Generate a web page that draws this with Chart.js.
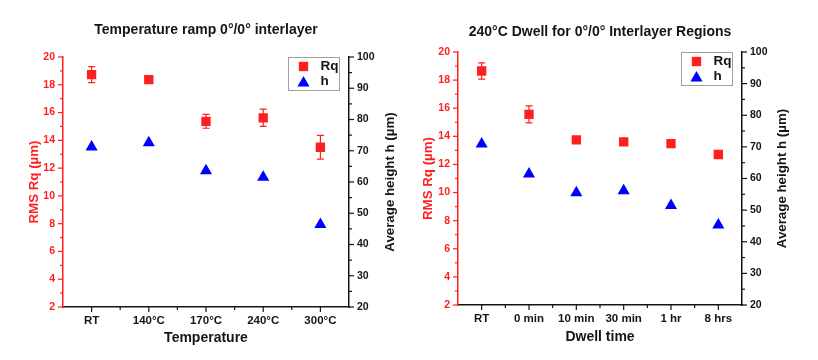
<!DOCTYPE html>
<html>
<head>
<meta charset="utf-8">
<script src="https://cdn.jsdelivr.net/npm/chart.js@4"></script>
<style>
  html, body { margin: 0; padding: 0; background: #fff; }
  #wrap { position: relative; width: 818px; height: 360px; }
  canvas { position: absolute; top: 0; }
</style>
</head>
<body>
<div id="wrap">
  <canvas id="c1" width="409" height="360" style="left:0"></canvas>
  <canvas id="c2" width="409" height="360" style="left:409px"></canvas>
</div>
<script>
// --- Daten ---
const tempLabels = ['RT', '140°C', '170°C', '240°C', '300°C'];
const tempRq     = [18.73, 18.37, 15.37, 15.62, 13.5];
const tempRqErr  = [0.58, 0.1, 0.5, 0.62, 0.86];
const tempH      = [71.2, 72.6, 63.6, 61.5, 46.4];

const dwellLabels = ['RT', '0 min', '10 min', '30 min', '1 hr', '8 hrs'];
const dwellRq     = [18.65, 15.56, 13.75, 13.6, 13.48, 12.71];
const dwellRqErr  = [0.58, 0.6, 0, 0, 0.15, 0];
const dwellH      = [70.9, 61.4, 55.5, 56.1, 51.5, 45.3];

const rqRange = [2, 20];   // linke Achse, Hauptstriche alle 2
const hRange  = [20, 100]; // rechte Achse, Hauptstriche alle 10

const RED = '#ff1f1f';
const BLUE = '#0000ff';
const INK = '#151515';
const FONT = '"Liberation Sans", Arial, sans-serif';

// --- Plugins ---
const errorBars = {
  id: 'errorBars',
  afterDatasetsDraw(chart, args, opts) {
    const errs = opts.errors || [];
    const meta = chart.getDatasetMeta(0);
    const ys = chart.scales.y;
    const data = chart.data.datasets[0].data;
    const {ctx} = chart;
    ctx.save();
    ctx.strokeStyle = RED;
    ctx.lineWidth = 1.2;
    meta.data.forEach((pt, i) => {
      const e = errs[i];
      if (!e) return;
      const top = ys.getPixelForValue(data[i] + e);
      const bot = ys.getPixelForValue(data[i] - e);
      ctx.beginPath();
      ctx.moveTo(pt.x, top); ctx.lineTo(pt.x, bot);
      ctx.moveTo(pt.x - 3.5, top); ctx.lineTo(pt.x + 3.5, top);
      ctx.moveTo(pt.x - 3.5, bot); ctx.lineTo(pt.x + 3.5, bot);
      ctx.stroke();
    });
    ctx.restore();
  }
};

const tickMarks = {
  id: 'tickMarks',
  afterDraw(chart) {
    const {ctx, chartArea: a} = chart;
    ctx.save();
    ctx.lineWidth = 1.2;
    ['y', 'y2'].forEach(id => {
      const sc = chart.scales[id];
      const left = sc.position === 'left';
      const x0 = left ? a.left : a.right;
      const dir = left ? -1 : 1;
      ctx.strokeStyle = sc.options.border.color;
      sc.ticks.forEach(t => {
        const y = sc.getPixelForValue(t.value);
        const len = t.label !== '' ? 5 : 3;
        ctx.beginPath();
        ctx.moveTo(x0, y);
        ctx.lineTo(x0 + dir * len, y);
        ctx.stroke();
      });
    });
    const xs = chart.scales.x;
    ctx.strokeStyle = xs.options.border.color;
    const n = chart.data.labels.length;
    for (let i = 0; i < n; i++) {
      const px = xs.getPixelForValue(i);
      ctx.beginPath(); ctx.moveTo(px, a.bottom); ctx.lineTo(px, a.bottom + 5); ctx.stroke();
      if (i < n - 1) {
        const mx = xs.getPixelForValue(i + 0.5);
        ctx.beginPath(); ctx.moveTo(mx, a.bottom); ctx.lineTo(mx, a.bottom + 3); ctx.stroke();
      }
    }
    ctx.restore();
  }
};

const plotTitle = {
  id: 'plotTitle',
  afterDraw(chart, args, opts) {
    const {ctx, chartArea: a} = chart;
    ctx.save();
    ctx.font = `bold 14px ${FONT}`;
    ctx.fillStyle = INK;
    ctx.textAlign = 'center';
    ctx.textBaseline = 'middle';
    ctx.fillText(opts.text, (a.left + a.right) / 2, opts.y);
    ctx.restore();
  }
};

// rechte Achsenbeschriftung liest von unten nach oben (wie links)
const sideTitle = {
  id: 'sideTitle',
  afterDraw(chart, args, opts) {
    const {ctx, chartArea: a} = chart;
    ctx.save();
    ctx.translate(opts.x, (a.top + a.bottom) / 2);
    ctx.rotate(-Math.PI / 2);
    ctx.font = `bold 13.3px ${FONT}`;
    ctx.fillStyle = INK;
    ctx.textAlign = 'center';
    ctx.textBaseline = 'middle';
    ctx.fillText(opts.text, 0, 0);
    ctx.restore();
  }
};

const legendBox = {
  id: 'legendBox',
  afterDraw(chart, args, opts) {
    const {ctx, chartArea: a} = chart;
    const w = 51, h = 33;
    const x0 = Math.round(a.right - opts.right - w) + 0.5;
    const y0 = Math.round(a.top) + 0.5;
    ctx.save();
    ctx.fillStyle = '#fff';
    ctx.fillRect(x0, y0, w, h);
    ctx.strokeStyle = '#a0a0a0';
    ctx.lineWidth = 1;
    ctx.strokeRect(x0, y0, w, h);
    chart.data.datasets.forEach((ds, i) => {
      const y = y0 + 9 + i * 15;
      ctx.fillStyle = ds.backgroundColor;
      Chart.helpers.drawPoint(ctx, {
        pointStyle: ds.pointStyle,
        radius: ds.pointRadius,
        borderWidth: 0,
        rotation: 0
      }, x0 + 15, y + (ds.pointStyle === 'triangle' ? 1.5 : 0));
      ctx.fillStyle = INK;
      ctx.font = `bold 13.5px ${FONT}`;
      ctx.textAlign = 'left';
      ctx.textBaseline = 'middle';
      ctx.fillText(ds.label, x0 + 32, y);
    });
    ctx.restore();
  }
};

// --- Chart-Fabrik ---
function makeChart(id, c) {
  return new Chart(document.getElementById(id), {
    type: 'line',
    data: {
      labels: c.labels,
      datasets: [
        {
          label: 'Rq', data: c.rq, yAxisID: 'y', showLine: false,
          pointStyle: 'rect', pointRadius: 6.6, pointHoverRadius: 6.6,
          backgroundColor: RED, borderColor: RED, pointBorderWidth: 0
        },
        {
          label: 'h', data: c.h, yAxisID: 'y2', showLine: false,
          pointStyle: 'triangle', pointRadius: 7, pointHoverRadius: 7,
          backgroundColor: BLUE, borderColor: BLUE, pointBorderWidth: 0
        }
      ]
    },
    options: {
      responsive: false,
      animation: false,
      layout: { padding: { top: c.top, left: 0, right: 0, bottom: 0 } },
      plugins: {
        legend: { display: false },
        tooltip: { enabled: false },
        title: { display: false },
        errorBars: { errors: c.err },
        plotTitle: { text: c.title, y: c.titleY },
        sideTitle: { text: 'Average height h (µm)', x: c.rightTitleX },
        legendBox: { right: c.legendRight }
      },
      scales: {
        x: {
          type: 'category',
          offset: true,
          grid: { display: false, drawTicks: false },
          border: { display: true, color: INK, width: 1.5 },
          ticks: { color: INK, font: { family: FONT, size: 11.5, weight: 'bold' }, padding: 7, maxRotation: 0, autoSkip: false },
          title: { display: true, text: c.xTitle, color: INK, font: { family: FONT, size: 14, weight: 'bold' }, padding: { top: 0, bottom: c.xTitlePad } },
          afterFit: s => { s.height = c.xH; }
        },
        y: {
          position: 'left',
          min: rqRange[0], max: rqRange[1],
          grid: { display: false, drawTicks: false },
          border: { display: true, color: RED, width: 1.5 },
          ticks: {
            stepSize: 1, maxTicksLimit: 40, autoSkip: false, padding: 8,
            color: RED, font: { family: FONT, size: 10.5, weight: 'bold' },
            callback: v => (v % 2 === 0 ? v : '')
          },
          title: { display: true, text: 'RMS Rq (µm)', color: RED, font: { family: FONT, size: 13.3, weight: 'bold' }, padding: { top: c.leftTitlePad, bottom: 0 } },
          afterFit: s => { s.width = c.yW; }
        },
        y2: {
          position: 'right',
          min: hRange[0], max: hRange[1],
          grid: { display: false, drawTicks: false },
          border: { display: true, color: INK, width: 1.5 },
          ticks: {
            stepSize: 5, maxTicksLimit: 40, autoSkip: false, padding: 8,
            color: INK, font: { family: FONT, size: 10.5, weight: 'bold' },
            callback: v => (v % 10 === 0 ? v : '')
          },
          title: { display: false },
          afterFit: s => { s.width = c.y2W; }
        }
      }
    },
    plugins: [errorBars, tickMarks, plotTitle, sideTitle, legendBox]
  });
}

makeChart('c1', {
  labels: tempLabels, rq: tempRq, err: tempRqErr, h: tempH,
  title: 'Temperature ramp 0°/0° interlayer', titleY: 30.5,
  xTitle: 'Temperature',
  top: 57, xH: 53, yW: 63, y2W: 60,
  xTitlePad: 13, leftTitlePad: 26, rightTitleX: 390, legendRight: 10
});

makeChart('c2', {
  labels: dwellLabels, rq: dwellRq, err: dwellRqErr, h: dwellH,
  title: '240°C Dwell for 0°/0° Interlayer Regions', titleY: 32,
  xTitle: 'Dwell time',
  top: 52, xH: 55, yW: 49, y2W: 76,
  xTitlePad: 14, leftTitlePad: 11.4, rightTitleX: 373, legendRight: 10
});
</script>
</body>
</html>
